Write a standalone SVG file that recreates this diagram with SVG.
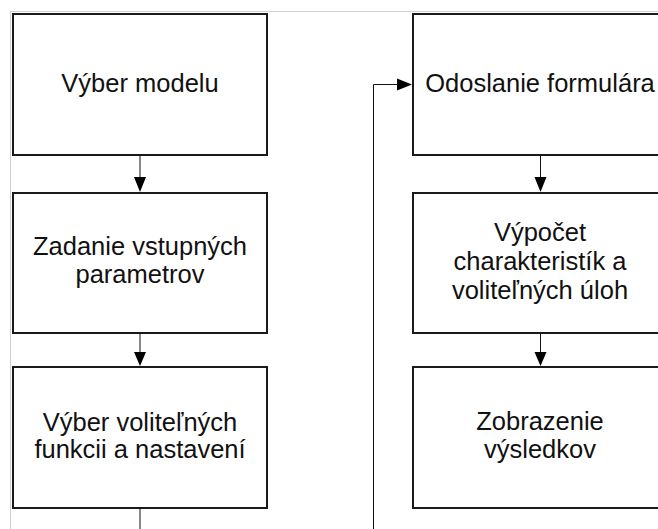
<svg xmlns="http://www.w3.org/2000/svg" width="658" height="529" viewBox="0 0 658 529">
  <defs>
    <style>
      .box { fill: #ffffff; stroke: #1a1a1a; stroke-width: 2; }
      .frame { fill: none; stroke: #cfcfcf; stroke-width: 1; }
      .link { fill: none; stroke: #111111; stroke-width: 1; }
      .head { fill: #000000; }
      .label { font-family: "Liberation Sans", Arial, sans-serif; font-size: 25.5px; fill: #111111; text-anchor: middle; }
    </style>
  </defs>

  <rect width="658" height="529" fill="#ffffff"/>

  <!-- page frame -->
  <path class="frame" d="M10.5,529 V11.5 H658"/>

  <!-- left column -->
  <g id="vyber-modelu">
    <rect class="box" x="13" y="14" width="254" height="141"/>
    <text class="label" x="140" y="92">Výber modelu</text>
  </g>
  <g id="zadanie-parametrov">
    <rect class="box" x="13" y="193" width="254" height="140"/>
    <text class="label" x="140" y="255">Zadanie vstupných</text>
    <text class="label" x="140" y="283">parametrov</text>
  </g>
  <g id="vyber-funkcii">
    <rect class="box" x="13" y="367" width="254" height="141"/>
    <text class="label" x="140" y="430.5">Výber voliteľných</text>
    <text class="label" x="140" y="457.5">funkcii a nastavení</text>
  </g>

  <!-- right column -->
  <g id="odoslanie-formulara">
    <rect class="box" x="413" y="14" width="254" height="141"/>
    <text class="label" x="540" y="92">Odoslanie formulára</text>
  </g>
  <g id="vypocet">
    <rect class="box" x="413" y="193" width="254" height="140"/>
    <text class="label" x="540" y="241">Výpočet</text>
    <text class="label" x="540" y="270">charakteristík a</text>
    <text class="label" x="540" y="299">voliteľných úloh</text>
  </g>
  <g id="zobrazenie-vysledkov">
    <rect class="box" x="413" y="367" width="254" height="141"/>
    <text class="label" x="540" y="429.5">Zobrazenie</text>
    <text class="label" x="540" y="457.5">výsledkov</text>
  </g>

  <!-- connectors -->
  <g id="connectors">
    <path class="link" d="M140,155 V177"/>
    <polygon class="head" points="134,177 146,177 140,192"/>
    <path class="link" d="M140,333 V352"/>
    <polygon class="head" points="134,352 146,352 140,366"/>
    <path class="link" d="M140,508 V529"/>

    <path class="link" d="M540.5,155 V177"/>
    <polygon class="head" points="534.5,177 546.5,177 540.5,192"/>
    <path class="link" d="M540.5,333 V352"/>
    <polygon class="head" points="534.5,352 546.5,352 540.5,366"/>

    <path class="link" d="M373.5,529 V84.5 H397"/>
    <polygon class="head" points="397,78.5 397,90.5 412,84.5"/>
  </g>
</svg>
